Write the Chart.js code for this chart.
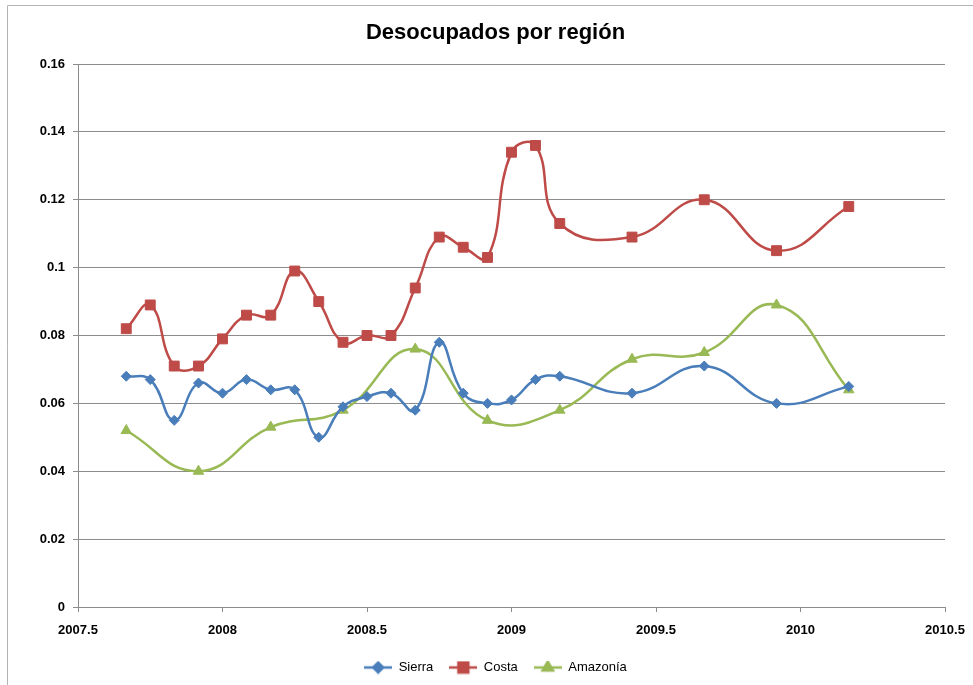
<!DOCTYPE html>
<html>
<head>
<meta charset="utf-8">
<script src="https://cdn.jsdelivr.net/npm/chart.js@4"></script>
<style>
  html, body { margin: 0; padding: 0; background: #fff; }
  #wrap { width: 973px; height: 685px; position: relative; }
</style>
</head>
<body>
<div id="wrap"><canvas id="chart" width="973" height="685"></canvas></div>
<script>
// --- data ---
const monthX = [2007.667, 2007.75, 2007.833, 2007.917, 2008.0, 2008.083, 2008.167, 2008.25,
    2008.333, 2008.417, 2008.5, 2008.583, 2008.667, 2008.75, 2008.833, 2008.917,
    2009.0, 2009.083, 2009.167, 2009.417, 2009.667, 2009.917, 2010.167];
const sierra = [0.068, 0.067, 0.055, 0.066, 0.063, 0.067, 0.064, 0.064,
    0.050, 0.059, 0.062, 0.063, 0.058, 0.078, 0.063, 0.060,
    0.061, 0.067, 0.068, 0.063, 0.071, 0.060, 0.065];
const costa = [0.082, 0.089, 0.071, 0.071, 0.079, 0.086, 0.086, 0.099,
    0.090, 0.078, 0.080, 0.080, 0.094, 0.109, 0.106, 0.103,
    0.134, 0.136, 0.113, 0.109, 0.120, 0.105, 0.118];
const quarterX = [2007.667, 2007.917, 2008.167, 2008.417, 2008.667, 2008.917,
    2009.167, 2009.417, 2009.667, 2009.917, 2010.167];
const amazonia = [0.052, 0.040, 0.053, 0.058, 0.076, 0.055, 0.058, 0.073, 0.075, 0.089, 0.064];

const toPoints = (xs, ys) => xs.map((x, i) => ({ x: x, y: ys[i] }));

const SIERRA = '#4A7EBB', COSTA = '#BE4B48', AMAZ = '#98B954';
const GRID = '#8c8c8c';

// small line+marker swatch for the legend, Excel style
function swatch(color, style, r) {
    const c = document.createElement('canvas');
    c.width = 28; c.height = 14;
    const g = c.getContext('2d');
    g.strokeStyle = color; g.lineWidth = 2.5;
    g.beginPath(); g.moveTo(0, 7); g.lineTo(28, 7); g.stroke();
    g.fillStyle = color; g.strokeStyle = color;
    Chart.helpers.drawPoint(g, { pointStyle: style, radius: r, borderWidth: 1 }, 14, 7);
    g.fill();
    return c;
}

// white background + frame lines on top/left like the source image
const framePlugin = {
    id: 'frame',
    beforeDraw(chart) {
        const ctx = chart.ctx;
        ctx.save();
        ctx.fillStyle = '#fff';
        ctx.fillRect(0, 0, chart.width, chart.height);
        ctx.strokeStyle = '#b4b4b4';
        ctx.lineWidth = 1;
        ctx.beginPath();
        ctx.moveTo(7.5, chart.height);
        ctx.lineTo(7.5, 5.5);
        ctx.lineTo(chart.width, 5.5);
        ctx.stroke();
        ctx.restore();
    }
};

const styles = { Sierra: ['rectRot', 5], Costa: ['rect', 7], 'Amazonía': ['triangle', 6] };

const ctx = document.getElementById('chart').getContext('2d');
new Chart(ctx, {
    type: 'line',
    data: {
        datasets: [{
            label: 'Sierra',
            data: toPoints(monthX, sierra),
            borderColor: SIERRA, backgroundColor: SIERRA,
            pointStyle: 'rectRot', pointRadius: 5
        }, {
            label: 'Costa',
            data: toPoints(monthX, costa),
            borderColor: COSTA, backgroundColor: COSTA,
            pointStyle: 'rect', pointRadius: 7
        }, {
            label: 'Amazonía',
            data: toPoints(quarterX, amazonia),
            borderColor: AMAZ, backgroundColor: AMAZ,
            pointStyle: 'triangle', pointRadius: 6
        }]
    },
    options: {
        responsive: false,
        animation: false,
        datasets: { line: { borderWidth: 2.5, tension: 0.45, fill: false, pointBorderWidth: 1 } },
        layout: { padding: { left: 18, right: 0, top: 0, bottom: 1 } },
        scales: {
            x: {
                type: 'linear',
                min: 2007.5, max: 2010.5,
                ticks: {
                    stepSize: 0.5, color: '#000', padding: 11,
                    font: { family: 'Liberation Sans', size: 13, weight: 'bold' },
                    callback: v => String(v)
                },
                grid: { drawOnChartArea: false, drawTicks: true, tickLength: 5, color: GRID },
                border: { color: GRID, width: 1 },
                afterFit: s => { s.height = 38; s.paddingRight = 28; s.paddingLeft = 0; }
            },
            y: {
                min: 0, max: 0.16,
                ticks: {
                    stepSize: 0.02, color: '#000', padding: 8,
                    font: { family: 'Liberation Sans', size: 13, weight: 'bold' },
                    callback: v => String(Number(v.toFixed(2)))
                },
                grid: { color: GRID, tickLength: 5 },
                border: { color: GRID, width: 1 },
                afterFit: s => { s.width = 60; }
            }
        },
        plugins: {
            title: {
                display: true,
                text: 'Desocupados por región',
                color: '#000',
                font: { family: 'Liberation Sans', size: 22, weight: 'bold' },
                padding: { top: 20, bottom: 17.6 }
            },
            legend: {
                position: 'bottom',
                labels: {
                    color: '#000',
                    font: { family: 'Liberation Sans', size: 13 },
                    usePointStyle: true,
                    pointStyleWidth: 28,
                    padding: 16,
                    generateLabels(chart) {
                        return chart.data.datasets.map((ds, i) => ({
                            text: ds.label,
                            pointStyle: swatch(ds.borderColor, styles[ds.label][0], styles[ds.label][1]),
                            datasetIndex: i,
                            fillStyle: ds.borderColor,
                            strokeStyle: ds.borderColor,
                            fontColor: '#000',
                            hidden: false
                        }));
                    }
                }
            },
            tooltip: { enabled: false }
        }
    },
    plugins: [framePlugin]
});
</script>
</body>
</html>
